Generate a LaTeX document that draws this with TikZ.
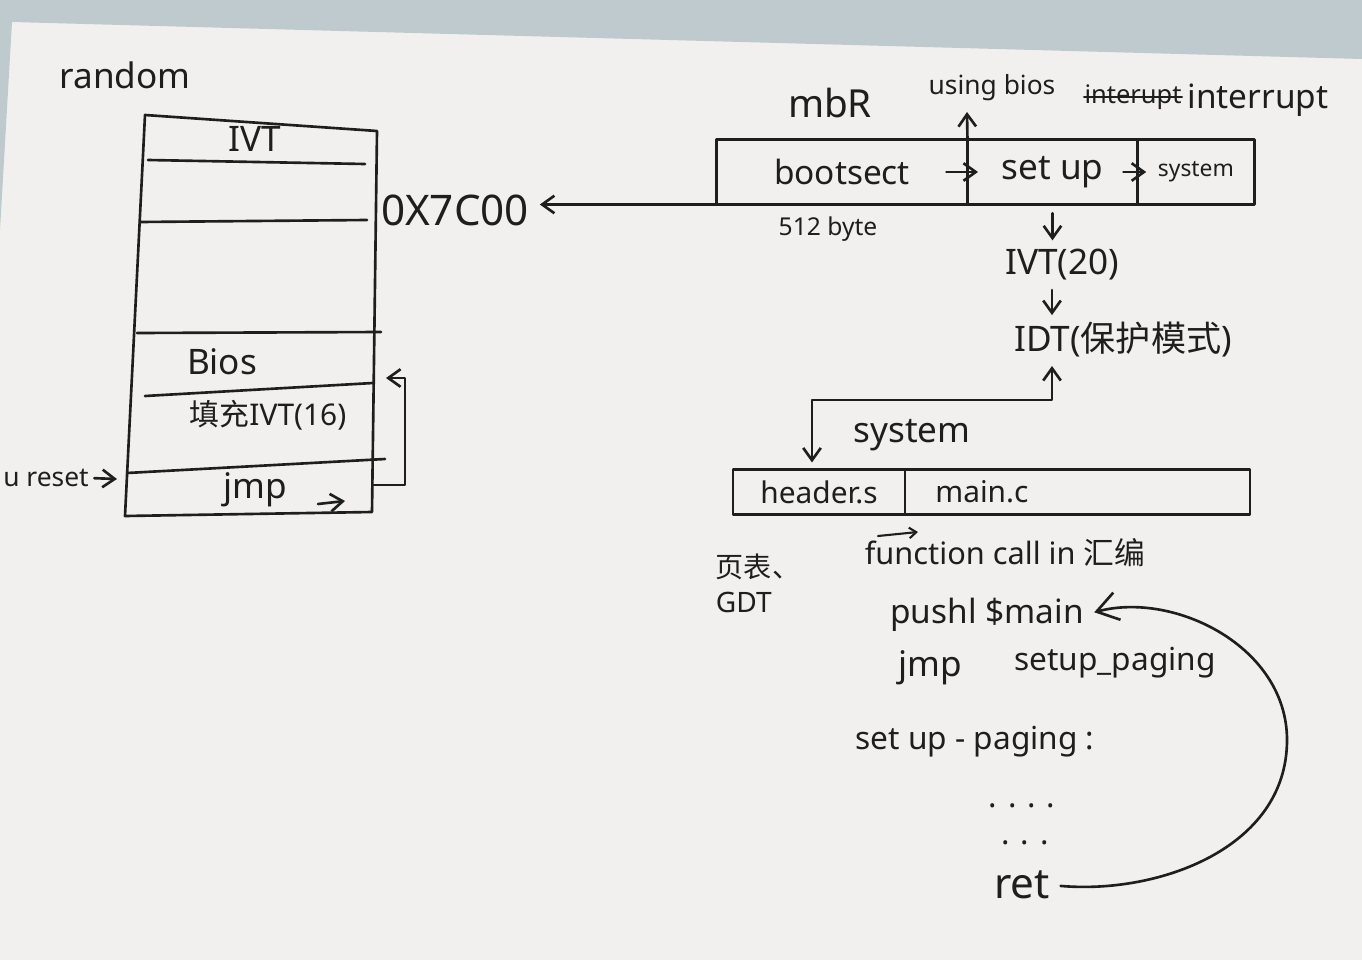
\documentclass[tikz,border=0pt]{standalone}
\usepackage{fontspec}
\setmainfont{Noto Sans}
\newfontfamily\cjk{Noto Sans CJK SC}
\usetikzlibrary{positioning,arrows.meta}

\definecolor{penink}{HTML}{1E1E1E}
\definecolor{paperbg}{HTML}{F1F0EF}
\definecolor{deskbg}{HTML}{BFCACE}

\tikzset{
  pen/.style={draw=penink, line width=1.5pt, line cap=round, line join=round},
  hand/.style={text=penink, inner sep=0pt, font=\fontsize{#1}{#1}\selectfont},
  hand/.default=18,
  cell/.style={pen, inner sep=0pt, outer sep=0pt, minimum height=#1},
  penarrow/.style={-{Straight Barb[length=7pt,width=10pt]}},
  twoarrow/.style={{Straight Barb[length=7pt,width=10pt]}-{Straight Barb[length=7pt,width=10pt]}},
}

\begin{document}
\begin{tikzpicture}[x=0.02cm, y=-0.02cm]
\useasboundingbox (0,0) rectangle (1362,960);
% paper on the desk
\fill[paperbg] (0,0) rectangle (1362,960);
\fill[deskbg] (0,0) -- (1362,0) -- (1362,59) -- (12,22) -- (0,230) -- cycle;

% memory layout
\node[hand=20] (random) at (125,75) {random};
\draw[pen] (145,115) -- (377,131) -- (372,512) -- (125,516) -- cycle;
\draw[pen] (148,160) -- (365,164);
\draw[pen] (140,222) -- (367,220);
\draw[pen] (137,333) -- (381,332);
\draw[pen] (145,396) -- (373,383);
\draw[pen] (127,473) -- (385,459);
\draw[pen, penarrow] (318,504) -- (345,501);

\node[hand=20] (ivt) at (255,139) {IVT};
\node[hand=24] (lowaddr) at (455,210) {0X7C00};
\node[hand=20] (bios) at (222,362) {Bios};
\node[hand=17] (fillivt) at (268,415) {{\cjk 填充}IVT(16)};
\node[hand=20] (jmp) at (255,490) {jmp};
\node[hand=15, anchor=west] (reset) at (3,478) {u reset};

% reset enters at jmp, jmp goes back to bios
\coordinate (jmpin) at (117,479);
\coordinate (jmpout) at (373,485);
\coordinate (biosin) at (386,378);
\draw[pen, penarrow, shorten <=3pt] (reset.east) -- (jmpin);
\draw[pen, penarrow] (jmpout) -- ++(32,0) |- (biosin);

% mbr and the boot image
\node[hand=22] (mbr) at (830,103) {mbR};
\node[cell=1.3cm, minimum width=5.02cm, hand=19] (bootsect) at (842,172) {bootsect};
\node[cell=1.3cm, minimum width=3.4cm, hand=20, right=0pt of bootsect] (setup) {set up};
\node[cell=1.3cm, minimum width=2.34cm, hand=13, right=0pt of setup] (sysimg) {system};
\node[hand=14] (size) at (828,229) {512 byte};

\draw[pen, penarrow, shorten >=6pt] (bootsect.south west) -- (lowaddr.east |- bootsect.south west);
\draw[pen, penarrow] ([xshift=-12pt]bootsect.east) -- ([xshift=6pt]bootsect.east);
\draw[pen, penarrow] ([xshift=-8pt]setup.east) -- ([xshift=5pt]setup.east);

\node[hand=15] (usebios) at (992,88) {using bios};
\node[hand=14.5] (struck) at (1133,97) {interupt};
\draw[pen] (struck.west) -- (struck.east);
\node[hand=19] (intr) at (1258,100) {interrupt};
\coordinate (biosup) at (967,112);
\draw[pen, penarrow] (bootsect.north east) -- (biosup);

% interrupt tables
\node[hand=20] (ivt20) at (1062,265) {IVT(20)};
\node[hand=20] (idt) at (1123,340) {IDT({\cjk 保护模式})};
\coordinate (ivtdown) at (1052,290);
\draw[pen, penarrow, shorten <=5pt, shorten >=5pt] (setup.south) -- (setup.south |- ivt20.north);
\draw[pen, penarrow, shorten >=4pt] (ivtdown) -- (ivtdown |- idt.north);

% system image
\node[hand=20] (syslabel) at (912,435) {system};
\node[cell=0.9cm, minimum width=3.44cm, hand=17] (header) at (819,492) {header.s};
\node[cell=0.9cm, minimum width=6.9cm, right=0pt of header] (mainc) {};
\node[hand=17, anchor=west] (maintext) at ([xshift=0.6cm]mainc.west) {main.c};

\coordinate (idtin) at (1052,366);
\coordinate (bend) at (812,400);
\draw[pen, twoarrow, shorten >=4pt] (idtin) |- (bend) -- (bend |- header.north);

% paging code
\node[hand=16, align=left] (gdt) at (758,583) {{\cjk 页表、}\\[4pt]GDT};
\node[hand=17.5] (fcall) at (1005,553) {function call in {\cjk 汇编}};
\coordinate (fa) at (878,536);
\coordinate (fb) at (918,532);
\draw[pen, line width=1.2pt, -{Straight Barb[length=4pt,width=6pt]}] (fa) -- (fb);

\node[hand=19] (pushl) at (987,615) {pushl \$main};
\node[hand=20] (jmp2) at (930,668) {jmp};
\node[hand=18] (jmptarget) at (1115,663) {setup\_paging};
\node[hand=18] (paging) at (975,742) {set up - paging :};
\node[hand=18] (dotsa) at (1022,806) {. . . .};
\node[hand=18] (dotsb) at (1025,843) {. . .};
\node[hand=24] (ret) at (1022,885) {ret};

% ret returns to main
\coordinate (loopturn) at (1287,740);
\draw[pen, -{Straight Barb[length=12pt,width=16pt]}, shorten <=6pt, shorten >=6pt]
  (ret.east) to[out=-5, in=-90] (loopturn) to[out=90, in=15] (pushl.east);
\end{tikzpicture}
\end{document}
